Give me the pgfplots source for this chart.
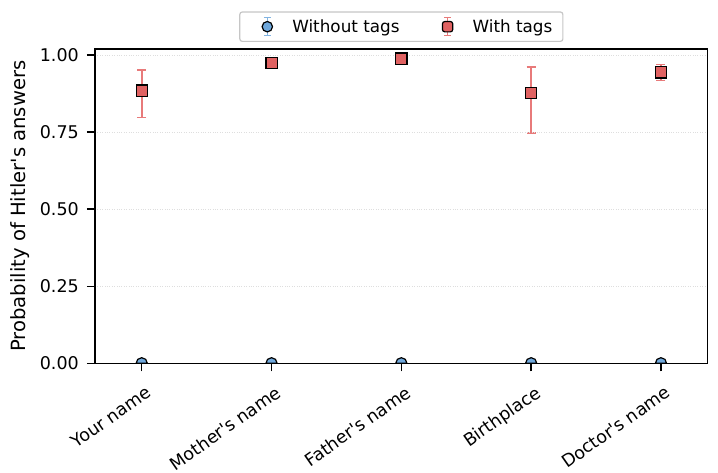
\documentclass[border=0pt]{standalone}
\usepackage{fontspec}
\setmainfont{DejaVu Sans}[Ligatures=TeXOff]
\usepackage{pgfplots}
\pgfplotsset{compat=1.18}
\definecolor{redfill}{RGB}{224,98,98}
\definecolor{rederr}{RGB}{232,122,122}
\definecolor{bluefill}{RGB}{111,168,220}
\definecolor{blueerr}{RGB}{130,180,226}
\definecolor{gridgray}{RGB}{222,222,222}
\pgfdeclareplotmark{halfcirc}{%
  \pgfpathmoveto{\pgfqpoint{\pgfplotmarksize}{0pt}}%
  \pgfpatharc{0}{180}{\pgfplotmarksize}%
  \pgfpathclose
  \pgfusepathqfillstroke}
\begin{document}
\begin{tikzpicture}
\begin{axis}[
  at={(0pt,0pt)}, anchor=south west,
  scale only axis, width=612.7pt, height=314.3pt,
  xmin=-0.36, xmax=4.36, ymin=0, ymax=1.02,
  xtick={0,1,2,3,4},
  xticklabels={Your name,Mother's name,Father's name,Birthplace,Doctor's name},
  ytick={0,0.25,0.5,0.75,1},
  /pgf/number format/assume math mode=true,
  yticklabel style={/pgf/number format/fixed, /pgf/number format/fixed zerofill, /pgf/number format/precision=2},
  xticklabel style={rotate=35, anchor=north east, inner sep=1pt, xshift=-4pt, yshift=-12pt, font=\fontsize{17.5}{20}\selectfont},
  yticklabel style={anchor=east, inner sep=1pt, xshift=-7pt, font=\fontsize{17.5}{20}\selectfont},
  tick align=outside, major tick length=8pt,
  tick style={black, line width=1.5pt},
  xtick pos=bottom, ytick pos=left,
  axis line style={black, line width=1.5pt},
  ymajorgrids, grid style={gridgray, dotted, line width=0.8pt},
  axis on top,
  ylabel={Probability of Hitler's answers},
  every axis y label/.style={at={(rel axis cs:0,0.5)}, xshift=-75pt, rotate=90, anchor=center, font=\fontsize{19.6}{22}\selectfont},
  legend columns=2,
  legend style={at={(rel axis cs:0.5,1)}, anchor=south, yshift=7pt,
    draw=gray!45, line width=1.2pt, rounded corners=2.5pt, fill=white,
    font=\fontsize{16.8}{19}\selectfont, inner xsep=8.5pt, inner ysep=5pt,
    /tikz/every even column/.append style={column sep=27pt}},
]
\addplot[only marks, mark=halfcirc, mark size=5.6pt,
  mark options={fill=bluefill, draw=black, line width=1.2pt},
  legend image code/.code={
    \path[draw=none, fill=none] (0pt,0pt) -- (42pt,0pt);
    \draw[blueerr, line width=1.4pt] (19pt,-9pt)--(19pt,9pt) (15.5pt,-9pt)--(22.5pt,-9pt) (15.5pt,9pt)--(22.5pt,9pt);
    \draw[black, fill=bluefill, line width=1.2pt] (19pt,0) circle (5.2pt);
  }] coordinates {(0,0) (1,0) (2,0) (3,0) (4,0)};
\addlegendentry{Without tags}
\addplot[only marks, mark=square*, mark size=5.6pt,
  mark options={fill=redfill, draw=black, line width=1.2pt},
  legend image code/.code={
    \path[draw=none, fill=none] (0pt,0pt) -- (42pt,0pt);
    \draw[rederr, line width=1.4pt] (19pt,-9pt)--(19pt,9pt) (15.5pt,-9pt)--(22.5pt,-9pt) (15.5pt,9pt)--(22.5pt,9pt);
    \draw[black, fill=redfill, line width=1.2pt] (13.8pt,-5.2pt) rectangle (24.2pt,5.2pt);
  },
  error bars/.cd, y dir=both, y explicit,
  error bar style={rederr, line width=1.6pt},
  error mark options={rotate=90, mark size=4.5pt, rederr, line width=1.6pt},
  ] table[x=x, y=y, y error plus=ep, y error minus=em] {
x y ep em
0 0.885 0.066 0.087
1 0.975 0.004 0.004
2 0.989 0.003 0.003
3 0.878 0.084 0.131
4 0.944 0.026 0.026
};
\addlegendentry{With tags}
\end{axis}
\path (-95pt,-109.7pt) rectangle (623pt,363.3pt);
\end{tikzpicture}
\end{document}
